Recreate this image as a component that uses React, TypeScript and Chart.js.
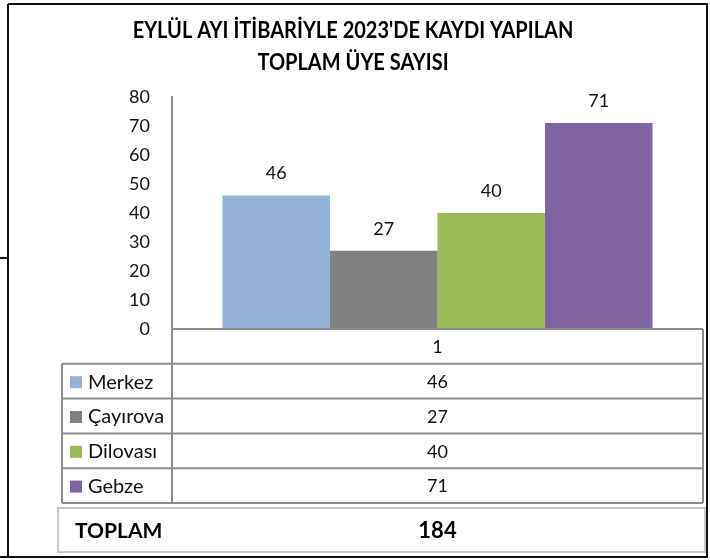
import React, { useEffect, useRef } from 'react';
import { Chart, registerables } from 'chart.js';

Chart.register(...registerables);

const titleLines = ["EYLÜL AYI İTİBARİYLE 2023'DE KAYDI YAPILAN", 'TOPLAM ÜYE SAYISI'];
const categories = ['1'];
const seriesNames = ['Merkez', 'Çayırova', 'Dilovası', 'Gebze'];
const merkez = [46];
const cayirova = [27];
const dilovasi = [40];
const gebze = [71];
const seriesColors = ['#95B3D7', '#808080', '#9BBB59', '#8064A2'];
const yMin = 0;
const yMax = 80;
const yStep = 10;
const totalLabel = 'TOPLAM';

const FONT = 'Lato, "Open Sans", sans-serif';
const LINE = '#8c8c8c';

const tablePlugin = {
  id: 'tablePlugin',
  afterDraw(chart: any) {
    const ctx = chart.ctx as CanvasRenderingContext2D;
    const ca = chart.chartArea;
    const xs = chart.scales.x;
    ctx.save();

    // outer frame
    ctx.strokeStyle = '#111';
    ctx.lineWidth = 2;
    ctx.beginPath();
    ctx.moveTo(8, 4); ctx.lineTo(708, 4);
    ctx.moveTo(8, 4); ctx.lineTo(8, 558);
    ctx.moveTo(707, 4); ctx.lineTo(707, 558);
    ctx.moveTo(0, 557); ctx.lineTo(708, 557);
    ctx.moveTo(0, 258); ctx.lineTo(8, 258);
    ctx.stroke();

    // title (condensed to imitate the original narrow bold face)
    ctx.fillStyle = '#000';
    ctx.font = `bold 23px ${FONT}`;
    ctx.textAlign = 'center';
    ctx.textBaseline = 'middle';
    const sx = 0.87;
    ctx.save();
    ctx.scale(sx, 1);
    titleLines.forEach((t, i) => ctx.fillText(t, 353 / sx, 31 + i * 32));
    ctx.restore();

    // value labels
    ctx.font = `18px ${FONT}`;
    ctx.fillStyle = '#111';
    chart.data.datasets.forEach((ds: any, di: number) => {
      const meta = chart.getDatasetMeta(di);
      meta.data.forEach((el: any, j: number) => {
        ctx.fillText(String(ds.data[j]), el.x, el.y - 22);
      });
    });

    // data table
    const top = ca.bottom;
    const nRows = seriesNames.length + 1;
    const rowH = 34.8;
    const bottom = top + rowH * nRows;
    const leftCol = 62;
    ctx.strokeStyle = LINE;
    ctx.lineWidth = 2;
    ctx.beginPath();
    ctx.moveTo(ca.left, top); ctx.lineTo(ca.right, top);
    for (let r = 1; r <= nRows; r++) {
      const y = top + rowH * r;
      ctx.moveTo(leftCol, y); ctx.lineTo(ca.right, y);
    }
    ctx.moveTo(ca.left, top); ctx.lineTo(ca.left, bottom);
    ctx.moveTo(ca.right, top); ctx.lineTo(ca.right, bottom);
    ctx.moveTo(leftCol, top + rowH); ctx.lineTo(leftCol, bottom);
    ctx.stroke();

    const cx = xs.getPixelForValue(0);
    ctx.fillStyle = '#111';
    ctx.font = `18px ${FONT}`;
    ctx.textAlign = 'center';
    ctx.fillText(categories[0], cx, top + rowH / 2 + 1);
    chart.data.datasets.forEach((ds: any, di: number) => {
      const yc = top + rowH * (di + 1) + rowH / 2 + 1;
      ctx.textAlign = 'center';
      ctx.fillStyle = '#111';
      ctx.font = `18px ${FONT}`;
      ctx.fillText(String(ds.data[0]), cx, yc);
      ctx.fillStyle = seriesColors[di];
      ctx.fillRect(70, yc - 6, 12, 12);
      ctx.fillStyle = '#111';
      ctx.textAlign = 'left';
      ctx.font = `20px ${FONT}`;
      ctx.fillText(seriesNames[di], 88, yc);
    });

    // total box
    const total = chart.data.datasets.reduce((s: number, ds: any) => s + ds.data[0], 0);
    ctx.strokeStyle = '#c8c8c8';
    ctx.lineWidth = 2;
    ctx.strokeRect(58, 508, 647, 44);
    ctx.fillStyle = '#000';
    ctx.font = `bold 21px ${FONT}`;
    ctx.textAlign = 'left';
    ctx.fillText(totalLabel, 75, 531);
    ctx.textAlign = 'center';
    ctx.font = `bold 22px ${FONT}`;
    ctx.fillText(String(total), cx, 531);

    ctx.restore();
  },
};

export default function App() {
  const ref = useRef<HTMLCanvasElement>(null);
  useEffect(() => {
    if (!ref.current) return;
    const seriesData = [merkez, cayirova, dilovasi, gebze];
    const chart = new Chart(ref.current, {
      type: 'bar',
      data: {
        labels: categories,
        datasets: seriesNames.map((name, i) => ({
          label: name,
          data: seriesData[i],
          backgroundColor: seriesColors[i],
          borderWidth: 0,
          categoryPercentage: 0.81,
          barPercentage: 1,
        })),
      },
      options: {
        responsive: false,
        animation: false,
        layout: { padding: { left: 0, top: 97, right: 7, bottom: 231 } },
        plugins: {
          legend: { display: false },
          tooltip: { enabled: false },
          title: { display: false },
        },
        scales: {
          x: { display: false },
          y: {
            min: yMin,
            max: yMax,
            afterFit: (s: any) => { s.width = 172; },
            ticks: {
              stepSize: yStep,
              padding: 22,
              color: '#111',
              font: { family: FONT, size: 18 },
            },
            grid: { display: false, drawTicks: false },
            border: { display: true, color: LINE, width: 2 },
          },
        },
      },
      plugins: [tablePlugin],
    });
    return () => chart.destroy();
  }, []);
  return (
    <div style={{ position: 'absolute', left: 0, top: 0, width: 710, height: 560, background: '#fff' }}>
      <canvas ref={ref} width={710} height={560} style={{ display: 'block' }} />
    </div>
  );
}
